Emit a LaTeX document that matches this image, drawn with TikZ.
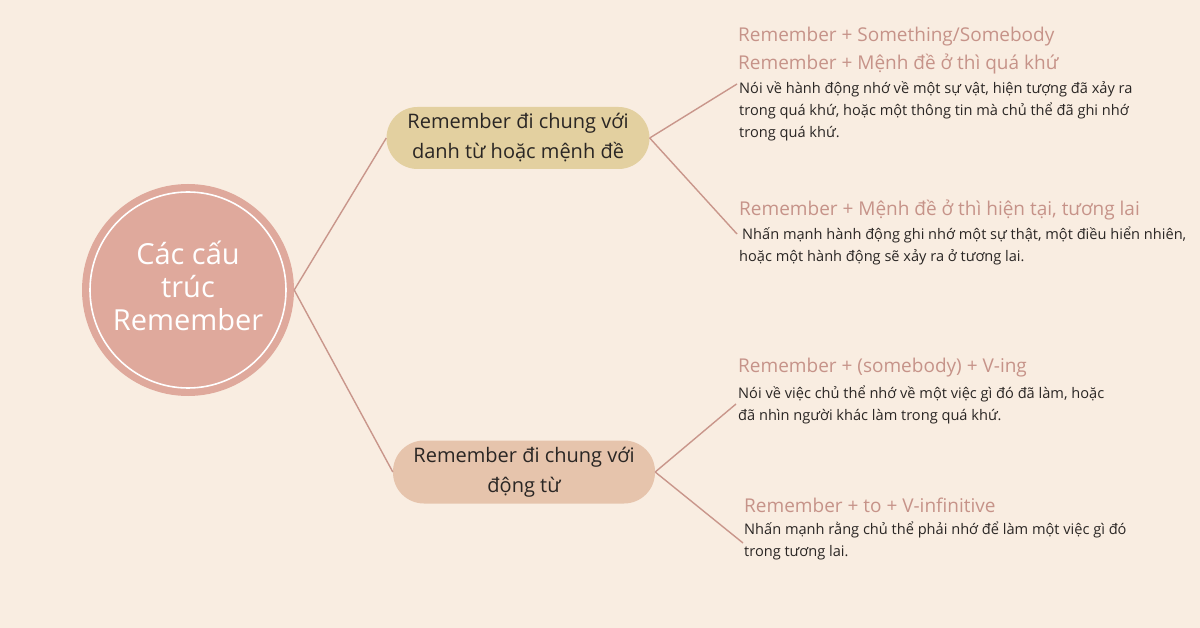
\documentclass[tikz,border=0pt]{standalone}
\usepackage{fontspec}
\setmainfont{Open Sans}
\definecolor{bg}{HTML}{F9EDE1}
\definecolor{circ}{HTML}{DFA99C}
\definecolor{pillA}{HTML}{E3D0A0}
\definecolor{pillB}{HTML}{E6C4AC}
\definecolor{lnk}{HTML}{C9968B}
\definecolor{head}{HTML}{C69389}
\definecolor{body}{HTML}{2A2624}
\begin{document}
\begin{tikzpicture}[x=1pt,y=-1pt,
  link/.style={draw=lnk,line width=1.4pt},
  pill/.style={rounded corners=31pt, minimum width=263pt, minimum height=62pt, align=center, font=\fontsize{20}{30}\selectfont, text=body, inner sep=0pt},
  hd/.style={anchor=west, inner sep=0pt, font=\fontsize{19}{27}\selectfont, text=head, align=left},
  bd/.style={anchor=north west, inner sep=0pt, font=\fontsize{14.6}{22}\selectfont, text=body, align=left}]
\fill[bg] (0,0) rectangle (1200,628);
\useasboundingbox (0,0) rectangle (1200,628);
% center
\node[circle, fill=circ, minimum size=212pt, inner sep=0pt] (c) at (188,290) {};
\draw[white, line width=1.6pt] (c.center) circle (98);
\node[text=white, align=center, font=\fontsize{29}{33}\selectfont] (ct) at (188,286) {Các cấu\\trúc\\Remember};
% pills
\node[pill, fill=pillA] (p1) at (518,138) {Remember đi chung với\\danh từ hoặc mệnh đề};
\node[pill, fill=pillB, minimum width=262pt, minimum height=63pt] (p2) at (524,472) {Remember đi chung với\\động từ};
% text blocks
\node[hd] (h1) at (738,37) {Remember + Something/Somebody};
\node[hd] (h2) at (738,64) {Remember + Mệnh đề ở thì quá khứ};
\node[bd] (b1) at (739,81) {Nói về hành động nhớ về một sự vật, hiện tượng đã xảy ra\\trong quá khứ, hoặc một thông tin mà chủ thể đã ghi nhớ\\trong quá khứ.};
\node[hd] (h3) at (739,210) {Remember + Mệnh đề ở thì hiện tại, tương lai};
\node[bd] (b3) at (742,227) {Nhấn mạnh hành động ghi nhớ một sự thật, một điều hiển nhiên,\\\hspace*{-3pt}hoặc một hành động sẽ xảy ra ở tương lai.};
\node[hd] (h4) at (738,368) {Remember + (somebody) + V-ing};
\node[bd] (b4) at (738,386) {Nói về việc chủ thể nhớ về một việc gì đó đã làm, hoặc\\đã nhìn người khác làm trong quá khứ.};
\node[hd] (h5) at (744,505) {Remember + to + V-infinitive};
\node[bd] (b5) at (744,522) {Nhấn mạnh rằng chủ thể phải nhớ để làm một việc gì đó\\trong tương lai.};
% endpoints
\coordinate (e1) at (737,84);
\coordinate (e3) at (737,234);
\coordinate (e4) at (736,404);
\coordinate (e5) at (743,543);
% connectors
\draw[link] (c.east) -- (p1.west);
\draw[link] (c.east) -- (p2.west);
\draw[link] (p1.east) -- (e1);
\draw[link] (p1.east) -- (e3);
\draw[link] (p2.east) -- (e4);
\draw[link] (p2.east) -- (e5);
\end{tikzpicture}
\end{document}
